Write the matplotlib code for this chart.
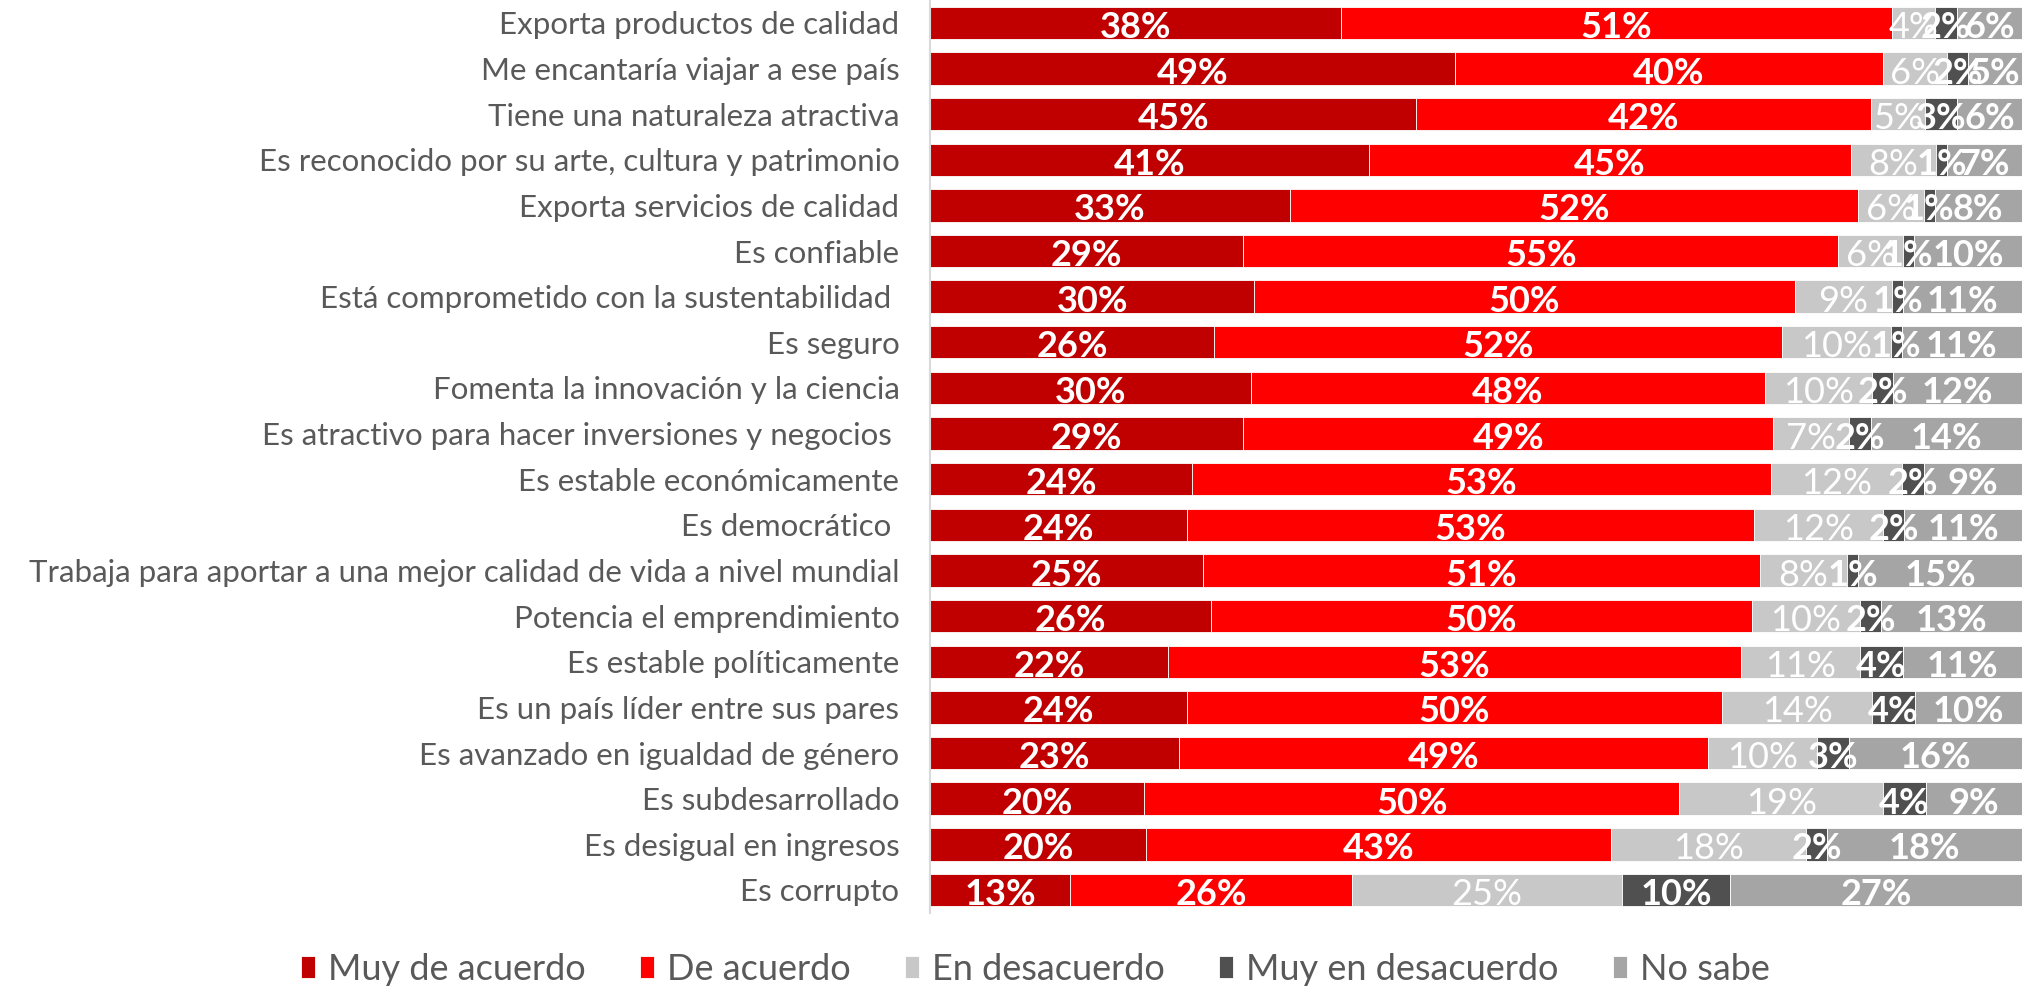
import matplotlib.pyplot as plt
import numpy as np

plt.rcParams['font.family'] = ['Lato', 'DejaVu Sans']

categories = [
    "Exporta productos de calidad",
    "Me encantaría viajar a ese país",
    "Tiene una naturaleza atractiva",
    "Es reconocido por su arte, cultura y patrimonio",
    "Exporta servicios de calidad",
    "Es confiable",
    "Está comprometido con la sustentabilidad ",
    "Es seguro",
    "Fomenta la innovación y la ciencia",
    "Es atractivo para hacer inversiones y negocios ",
    "Es estable económicamente",
    "Es democrático ",
    "Trabaja para aportar a una mejor calidad de vida a nivel mundial",
    "Potencia el emprendimiento",
    "Es estable políticamente",
    "Es un país líder entre sus pares",
    "Es avanzado en igualdad de género",
    "Es subdesarrollado",
    "Es desigual en ingresos",
    "Es corrupto",
]

series_names = ["Muy de acuerdo", "De acuerdo", "En desacuerdo",
                "Muy en desacuerdo", "No sabe"]

muy_de_acuerdo = [38, 49, 45, 41, 33, 29, 30, 26, 30, 29, 24, 24, 25, 26, 22, 24, 23, 20, 20, 13]
de_acuerdo = [51, 40, 42, 45, 52, 55, 50, 52, 48, 49, 53, 53, 51, 50, 53, 50, 49, 50, 43, 26]
en_desacuerdo = [4, 6, 5, 8, 6, 6, 9, 10, 10, 7, 12, 12, 8, 10, 11, 14, 10, 19, 18, 25]
muy_en_desacuerdo = [2, 2, 3, 1, 1, 1, 1, 1, 2, 2, 2, 2, 1, 2, 4, 4, 3, 4, 2, 10]
no_sabe = [6, 5, 6, 7, 8, 10, 11, 11, 12, 14, 9, 11, 15, 13, 11, 10, 16, 9, 18, 27]

colors = ["#C00000", "#FF0000", "#C8C8C8", "#505050", "#A5A5A5"]
label_weight = ["bold", "bold", "normal", "bold", "bold"]


def main():
    values = np.array([muy_de_acuerdo, de_acuerdo, en_desacuerdo,
                       muy_en_desacuerdo, no_sabe], dtype=float)
    # 100% stacked: scale each row to its total
    shares = values / values.sum(axis=0) * 100

    fig = plt.figure(figsize=(20.26, 9.9), dpi=100)
    ax = fig.add_axes([0.459, 0.078, 0.539, 0.922])

    y = np.arange(len(categories))
    left = np.zeros(len(categories))
    for k, name in enumerate(series_names):
        ax.barh(y, shares[k], left=left, height=0.71, color=colors[k],
                edgecolor="white", linewidth=0.6, label=name)
        for i in range(len(categories)):
            ax.text(left[i] + shares[k][i] / 2, y[i] + 0.1,
                    f"{values[k][i]:.0f}%", ha="center", va="center",
                    color="white", fontsize=26, fontweight=label_weight[k])
        left += shares[k]

    ax.set_xlim(0, 100)
    ax.set_ylim(len(categories) - 0.5, -0.5)
    ax.set_yticks(y)
    ax.set_yticklabels(categories, fontsize=22.5, color="#595959")
    ax.tick_params(axis="y", length=0, pad=22)
    ax.set_xticks([])
    for s in ["top", "right", "bottom"]:
        ax.spines[s].set_visible(False)
    ax.spines["left"].set_color("#D9D9D9")
    ax.spines["left"].set_linewidth(1.5)

    leg = fig.legend(loc="center", bbox_to_anchor=(0.511, 0.021), ncol=5,
                     frameon=False, fontsize=26, handlelength=0.4,
                     handleheight=0.55, handletextpad=0.35, columnspacing=1.5)
    for t in leg.get_texts():
        t.set_color("#595959")

    fig.savefig("out.png", dpi=100)


if __name__ == "__main__":
    main()
